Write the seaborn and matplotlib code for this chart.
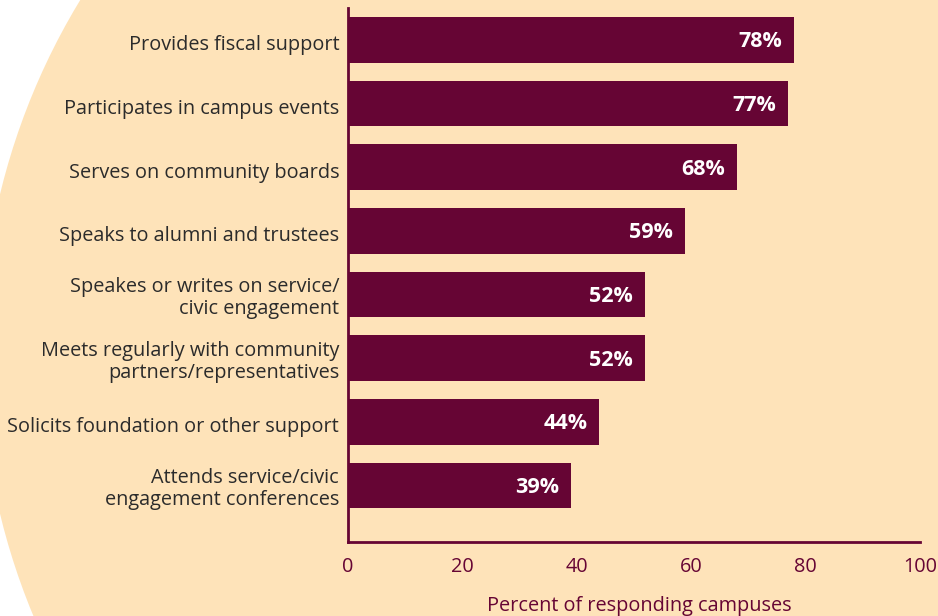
import matplotlib
matplotlib.use("Agg")
import matplotlib.pyplot as plt
from matplotlib.patches import Ellipse
from matplotlib.transforms import ScaledTranslation
import seaborn as sns
import pandas as pd

categories = [
    "Provides fiscal support",
    "Participates in campus events",
    "Serves on community boards",
    "Speaks to alumni and trustees",
    "Speakes or writes on service/\ncivic engagement",
    "Meets regularly with community\npartners/representatives",
    "Solicits foundation or other support",
    "Attends service/civic\nengagement conferences",
]
percents = [78, 77, 68, 59, 52, 52, 44, 39]
x_ticks = [0, 20, 40, 60, 80, 100]
x_title = "Percent of responding campuses"

MAROON = "#660534"
PEACH = "#FEE3B9"
TEXT = "#2b2b2b"

sns.set_theme(style="white")
plt.rcParams["font.family"] = ["Open Sans", "DejaVu Sans"]

df = pd.DataFrame({"label": categories, "pct": percents})

W, H = 938, 616
fig = plt.figure(figsize=(W / 100, H / 100), dpi=100, facecolor="white")

# large peach disc behind the plot
r = 681
disc = Ellipse((662 / W, 1 - 354 / H), 2 * r / W, 2 * r / H,
               transform=fig.transFigure, facecolor=PEACH, edgecolor="none",
               zorder=-5)
fig.patches.append(disc)

ax = fig.add_axes([347.5 / W, 1 - 541.7 / H, (920 - 347.5) / W, (541.7 - 8) / H])
ax.set_facecolor("none")
ax.set_zorder(1)

sns.barplot(data=df, y="label", x="pct", orient="h", color=MAROON,
            saturation=1, width=0.717, linewidth=0, ax=ax)

ax.set_xlim(0, 100)
ax.set_ylim(7.88, -0.5)
ax.set_xticks(x_ticks)
ax.set_xticklabels([str(t) for t in x_ticks])

for i, v in enumerate(percents):
    ax.annotate(f"{v}%", xy=(v, i), xytext=(-12, -2), textcoords="offset pixels",
                ha="right", va="center", color="white", fontsize=15.5,
                fontweight="bold")

for side in ("top", "right"):
    ax.spines[side].set_visible(False)
for side in ("left", "bottom"):
    ax.spines[side].set_color(MAROON)
    ax.spines[side].set_linewidth(2)

ax.tick_params(axis="x", direction="in", length=12.5, width=1.3, color=MAROON,
               labelcolor=MAROON, labelsize=14.3, pad=11)
ax.tick_params(axis="y", length=0, pad=6, labelcolor=TEXT, labelsize=14.3)
nudge = ScaledTranslation(0, -3 / 100, fig.dpi_scale_trans)
for lbl in ax.get_yticklabels():
    lbl.set_ha("right")
    lbl.set_linespacing(1.12)
    if "\n" not in lbl.get_text():
        lbl.set_transform(lbl.get_transform() + nudge)

ax.set_ylabel("")
ax.set_xlabel(x_title, color=MAROON, fontsize=14.3, labelpad=14)
ax.xaxis.label.set_x(0.51)

fig.savefig("out.png", dpi=100, facecolor="white")
